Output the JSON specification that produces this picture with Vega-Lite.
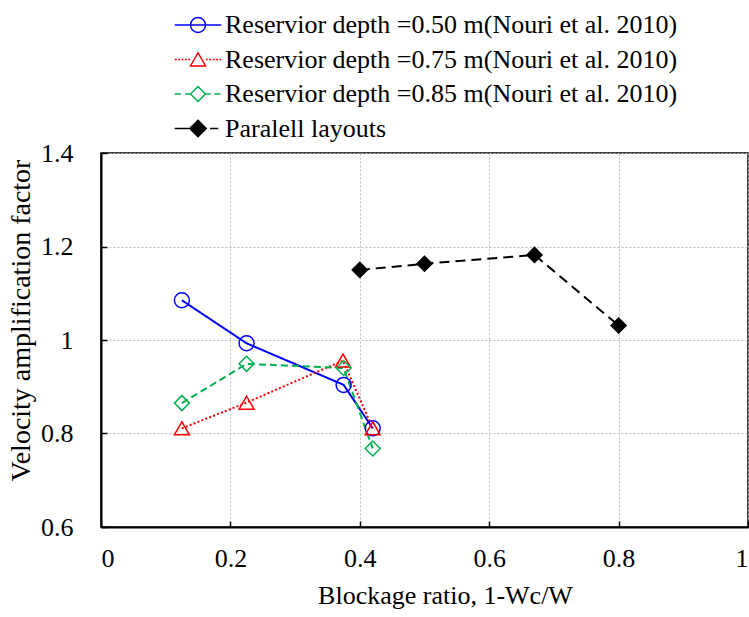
{
  "$schema": "https://vega.github.io/schema/vega-lite/v6.json",
  "width": 647,
  "height": 374,
  "autosize": {"type": "none"},
  "padding": {"left": 101, "top": 153, "right": 1, "bottom": 90},
  "background": "white",
  "config": {
    "font": "Liberation Serif",
    "view": {"stroke": "#000000", "strokeWidth": 1.5},
    "axis": {
      "labelFont": "Liberation Serif",
      "labelFontSize": 26,
      "labelColor": "#000000",
      "titleFont": "Liberation Serif",
      "titleFontSize": 26,
      "titleFontWeight": "normal",
      "titleColor": "#000000",
      "domainColor": "#000000",
      "domainWidth": 2,
      "tickColor": "#000000",
      "tickWidth": 1.5,
      "tickSize": -6,
      "gridColor": "#bdbdbd",
      "gridDash": [2, 2],
      "gridWidth": 1
    },
    "legend": {
      "symbolStrokeWidth": 1.5,
      "symbolOpacity": 1
    }
  },
  "data": {
    "values": [
      {"series": "Reservior depth =0.50 m(Nouri et al. 2010)", "x": 0.125, "y": 1.085},
      {"series": "Reservior depth =0.50 m(Nouri et al. 2010)", "x": 0.225, "y": 0.993},
      {"series": "Reservior depth =0.50 m(Nouri et al. 2010)", "x": 0.375, "y": 0.904},
      {"series": "Reservior depth =0.50 m(Nouri et al. 2010)", "x": 0.42, "y": 0.811},
      {"series": "Reservior depth =0.75 m(Nouri et al. 2010)", "x": 0.125, "y": 0.811},
      {"series": "Reservior depth =0.75 m(Nouri et al. 2010)", "x": 0.225, "y": 0.866},
      {"series": "Reservior depth =0.75 m(Nouri et al. 2010)", "x": 0.374, "y": 0.956},
      {"series": "Reservior depth =0.75 m(Nouri et al. 2010)", "x": 0.42, "y": 0.811},
      {"series": "Reservior depth =0.85 m(Nouri et al. 2010)", "x": 0.125, "y": 0.865},
      {"series": "Reservior depth =0.85 m(Nouri et al. 2010)", "x": 0.225, "y": 0.949},
      {"series": "Reservior depth =0.85 m(Nouri et al. 2010)", "x": 0.375, "y": 0.94},
      {"series": "Reservior depth =0.85 m(Nouri et al. 2010)", "x": 0.42, "y": 0.768},
      {"series": "Paralell layouts", "x": 0.4, "y": 1.15},
      {"series": "Paralell layouts", "x": 0.5, "y": 1.163},
      {"series": "Paralell layouts", "x": 0.67, "y": 1.182},
      {"series": "Paralell layouts", "x": 0.8, "y": 1.031}
    ]
  },
  "resolve": {"scale": {"shape": "independent", "stroke": "independent", "fill": "independent"}},
  "layer": [
    {
      "mark": {"type": "line", "strokeWidth": 2},
      "encoding": {
        "x": {
          "field": "x", "type": "quantitative",
          "scale": {"domain": [0, 1], "nice": false, "zero": false},
          "axis": {"values": [0, 0.2, 0.4, 0.6, 0.8, 1], "format": "~g", "labelPadding": 24, "title": "Blockage ratio, 1-Wc/W", "titleX": 344, "titleY": 76, "titleBaseline": "alphabetic"}
        },
        "y": {
          "field": "y", "type": "quantitative",
          "scale": {"domain": [0.6, 1.4], "nice": false, "zero": false},
          "axis": {"values": [0.6, 0.8, 1, 1.2, 1.4], "format": "~g", "labelPadding": 34, "title": "Velocity amplification factor", "titleFontSize": 28, "titleX": -66, "titleY": 167}
        },
        "color": {
          "field": "series", "type": "nominal",
          "scale": {
            "domain": ["Reservior depth =0.50 m(Nouri et al. 2010)", "Reservior depth =0.75 m(Nouri et al. 2010)", "Reservior depth =0.85 m(Nouri et al. 2010)", "Paralell layouts"],
            "range": ["#0000ff", "#ff0000", "#00b050", "#000000"]
          },
          "legend": null
        },
        "strokeDash": {
          "field": "series", "type": "nominal",
          "scale": {
            "domain": ["Reservior depth =0.50 m(Nouri et al. 2010)", "Reservior depth =0.75 m(Nouri et al. 2010)", "Reservior depth =0.85 m(Nouri et al. 2010)", "Paralell layouts"],
            "range": [[1, 0], [2, 2.2], [7, 4], [10, 6]]
          },
          "legend": null
        }
      }
    },
    {
      "mark": {"type": "point", "strokeWidth": 1.5, "opacity": 1},
      "encoding": {
        "x": {"field": "x", "type": "quantitative"},
        "y": {"field": "y", "type": "quantitative"},
        "color": {"field": "series", "type": "nominal", "legend": null},
        "shape": {
          "field": "series", "type": "nominal",
          "scale": {
            "domain": ["Reservior depth =0.50 m(Nouri et al. 2010)", "Reservior depth =0.75 m(Nouri et al. 2010)", "Reservior depth =0.85 m(Nouri et al. 2010)", "Paralell layouts"],
            "range": ["circle", "triangle-up", "diamond", "diamond"]
          },
          "legend": null
        },
        "size": {
          "field": "series", "type": "nominal",
          "scale": {
            "domain": ["Reservior depth =0.50 m(Nouri et al. 2010)", "Reservior depth =0.75 m(Nouri et al. 2010)", "Reservior depth =0.85 m(Nouri et al. 2010)", "Paralell layouts"],
            "range": [225, 225, 256, 225]
          },
          "legend": null
        },
        "fill": {
          "field": "series", "type": "nominal",
          "scale": {
            "domain": ["Reservior depth =0.50 m(Nouri et al. 2010)", "Reservior depth =0.75 m(Nouri et al. 2010)", "Reservior depth =0.85 m(Nouri et al. 2010)", "Paralell layouts"],
            "range": ["transparent", "transparent", "transparent", "#000000"]
          },
          "legend": null
        }
      }
    },
    {
      "transform": [{"filter": "false"}],
      "mark": {"type": "point", "opacity": 1, "strokeWidth": 1.5},
      "encoding": {
        "x": {"field": "x", "type": "quantitative"},
        "y": {"field": "y", "type": "quantitative"},
        "shape": {
          "field": "series", "type": "nominal",
          "scale": {
            "domain": ["Reservior depth =0.50 m(Nouri et al. 2010)", "Reservior depth =0.75 m(Nouri et al. 2010)", "Reservior depth =0.85 m(Nouri et al. 2010)", "Paralell layouts"],
            "range": [
              "M-3.1,0H3.1M1,0A1,1,0,1,0,-1,0A1,1,0,1,0,1,0Z",
              "M-3.1,0h0.25M-2.65,0h0.25M-2.2,0h0.25M-1.75,0h0.25M-1.3,0h0.25M1.05,0h0.25M1.5,0h0.25M1.95,0h0.25M2.4,0h0.25M2.85,0h0.25M0,-0.9L-1,0.85L1,0.85Z",
              "M-3.1,0H-2.3M-1.7,0H-1M1,0H1.7M2.2,0H3M-1,0L0,-1L1,0L0,1Z",
              "M-3.1,0H-1.2M1.6,0H2.7M-1.1,0L0,-1.1L1.1,0L0,1.1Z"
            ]
          },
          "legend": {
            "title": null, "orient": "none", "legendX": 84, "legendY": -141, "padding": 0, "rowPadding": 8.5,
            "symbolSize": 225, "symbolStrokeWidth": 1.5, "labelOffset": 14,
            "labelFont": "Liberation Serif", "labelFontSize": 26, "labelColor": "#000000", "labelLimit": 700
          }
        },
        "stroke": {
          "field": "series", "type": "nominal",
          "scale": {
            "domain": ["Reservior depth =0.50 m(Nouri et al. 2010)", "Reservior depth =0.75 m(Nouri et al. 2010)", "Reservior depth =0.85 m(Nouri et al. 2010)", "Paralell layouts"],
            "range": ["#0000ff", "#ff0000", "#00b050", "#000000"]
          },
          "legend": {
            "title": null, "orient": "none", "legendX": 84, "legendY": -141, "padding": 0, "rowPadding": 8.5,
            "symbolSize": 225, "symbolStrokeWidth": 1.5, "labelOffset": 14,
            "labelFont": "Liberation Serif", "labelFontSize": 26, "labelColor": "#000000", "labelLimit": 700
          }
        },
        "fill": {
          "field": "series", "type": "nominal",
          "scale": {
            "domain": ["Reservior depth =0.50 m(Nouri et al. 2010)", "Reservior depth =0.75 m(Nouri et al. 2010)", "Reservior depth =0.85 m(Nouri et al. 2010)", "Paralell layouts"],
            "range": ["transparent", "transparent", "transparent", "#000000"]
          },
          "legend": {
            "title": null, "orient": "none", "legendX": 84, "legendY": -141, "padding": 0, "rowPadding": 8.5,
            "symbolSize": 225, "symbolStrokeWidth": 1.5, "labelOffset": 14,
            "labelFont": "Liberation Serif", "labelFontSize": 26, "labelColor": "#000000", "labelLimit": 700
          }
        }
      }
    }
  ]
}
